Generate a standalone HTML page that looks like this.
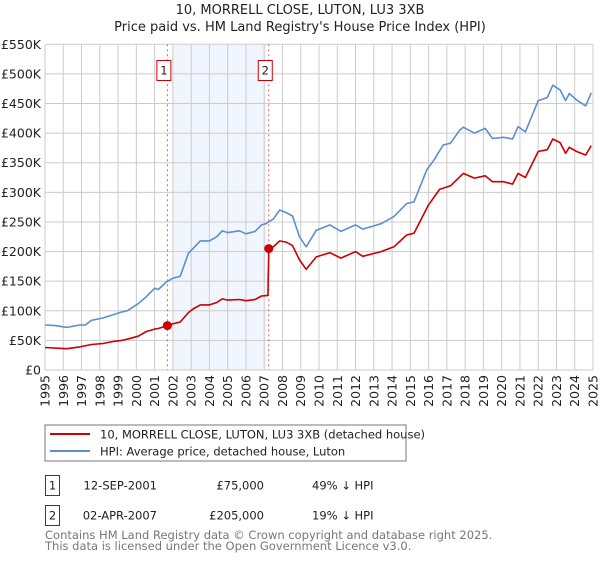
<!DOCTYPE html>
<html><head><meta charset="utf-8"><style>
body{margin:0;background:#fff;font-family:"DejaVu Sans","Liberation Sans",sans-serif;}
svg text{font-family:"DejaVu Sans","Liberation Sans",sans-serif;}
</style></head><body>
<svg id="chart" width="600" height="560" xmlns="http://www.w3.org/2000/svg">
<text x="300" y="14" text-anchor="middle" font-size="13" fill="#222">10, MORRELL CLOSE, LUTON, LU3 3XB</text>
<text x="300" y="31" text-anchor="middle" font-size="13" fill="#222">Price paid vs. HM Land Registry's House Price Index (HPI)</text>
<g id="grid"></g>
<g id="marks"></g>
<g>
<rect x="45" y="425" width="361" height="36" fill="#fff" stroke="#777"/>
<line x1="50" y1="434" x2="90" y2="434" stroke="#cc0000" stroke-width="2"/>
<text x="100" y="438.5" font-size="11.5" fill="#222">10, MORRELL CLOSE, LUTON, LU3 3XB (detached house)</text>
<line x1="50" y1="451" x2="90" y2="451" stroke="#5b8fd0" stroke-width="2"/>
<text x="100" y="455.5" font-size="11.5" fill="#222">HPI: Average price, detached house, Luton</text>
</g>
<g font-size="11.5" fill="#222">
<rect x="45.5" y="475.5" width="14" height="20" fill="#fff" stroke="#cc0000"/>
<text x="52.5" y="489.5" text-anchor="middle">1</text>
<text x="157" y="489.5" text-anchor="end">12-SEP-2001</text>
<text x="264" y="489.5" text-anchor="end">£75,000</text>
<text x="312" y="489.5">49% ↓ HPI</text>
<rect x="45.5" y="505.5" width="14" height="20" fill="#fff" stroke="#cc0000"/>
<text x="52.5" y="519.5" text-anchor="middle">2</text>
<text x="157" y="519.5" text-anchor="end">02-APR-2007</text>
<text x="264" y="519.5" text-anchor="end">£205,000</text>
<text x="312" y="519.5">19% ↓ HPI</text>
</g>
<text x="45" y="539" font-size="11.5" fill="#777">Contains HM Land Registry data © Crown copyright and database right 2025.</text>
<text x="45" y="550" font-size="11.5" fill="#777">This data is licensed under the Open Government Licence v3.0.</text>
</svg>
<script>
const hpiYears=[1995,1995.55,1996.2,1996.9,1997.2,1997.55,1998.2,1998.7,1999.2,1999.5,2000.1,2000.55,2001,2001.2,2001.65,2002,2002.4,2002.85,2003.1,2003.5,2004,2004.4,2004.7,2005,2005.65,2006,2006.5,2006.85,2007.1,2007.5,2007.85,2008.2,2008.55,2008.93,2009.3,2009.85,2010.6,2011.2,2012,2012.4,2013.4,2014.1,2014.8,2015.2,2015.9,2016.3,2016.8,2017.2,2017.7,2017.9,2018.5,2019.1,2019.5,2020.1,2020.6,2020.9,2021.3,2022,2022.5,2022.8,2023.2,2023.5,2023.7,2024.1,2024.6,2024.9];
const hpiValues=[76,75,72,76,76,84,88,93,98,100,112,124,138,136,149,155,158,197,205,218,218,225,235,232,235,230,234,245,247,255,270,266,260,225,208,236,245,234,245,238,247,259,281,284,338,355,380,383,405,410,400,408,391,393,390,411,402,455,460,481,473,455,467,456,446,468];
const priceYears=[1995,1996.2,1996.9,1997.55,1998.2,1998.7,1999.2,1999.5,2000.1,2000.55,2001,2001.2,2001.7,2002,2002.4,2002.85,2003.1,2003.5,2004,2004.4,2004.7,2005,2005.65,2006,2006.5,2006.85,2007.2,2007.25,2007.5,2007.85,2008.2,2008.55,2008.93,2009.3,2009.85,2010.6,2011.2,2012,2012.4,2013.4,2014.1,2014.8,2015.2,2016,2016.6,2017.2,2017.9,2018.5,2019.1,2019.5,2020.1,2020.6,2020.9,2021.3,2022,2022.5,2022.8,2023.2,2023.5,2023.7,2024.1,2024.6,2024.9];
const priceValues=[38,36,39,43,45,48,50,52,57,65,69,70,75,78,81,97,103,110,110,114,120,118,119,117,119,125,126,205,208,218,216,210,186,170,191,198,189,200,192,200,208,228,231,279,305,311,332,324,328,318,318,314,332,325,369,372,390,384,366,376,369,363,379];
const saleYears=[2001.7,2007.25];
const saleValues=[75,205];
const saleLabels=["1","2"];
const yTicks=[0,50,100,150,200,250,300,350,400,450,500,550];
const yTickLabels=["£0","£50K","£100K","£150K","£200K","£250K","£300K","£350K","£400K","£450K","£500K","£550K"];
const xTicks=[1995,1996,1997,1998,1999,2000,2001,2002,2003,2004,2005,2006,2007,2008,2009,2010,2011,2012,2013,2014,2015,2016,2017,2018,2019,2020,2021,2022,2023,2024,2025];
const shadeRange=[2002,2007.1];

const NS="http://www.w3.org/2000/svg";
const X0=45,X1=593,Y0=370,Y1=44.3;
const sx=y=>X0+(y-1995)/30*(X1-X0);
const sy=v=>Y0-v/550*(Y0-Y1);
function mk(tag,attrs,parent){const e=document.createElementNS(NS,tag);for(const k in attrs)e.setAttribute(k,attrs[k]);parent.appendChild(e);return e;}
const grid=document.getElementById('grid'),marks=document.getElementById('marks');
let sh=mk('rect',{x:sx(shadeRange[0]),y:Y1,width:sx(shadeRange[1])-sx(shadeRange[0]),height:Y0-Y1,fill:'#eef3fc',opacity:0.8},grid);


yTicks.forEach((t,i)=>{
 let l=mk('line',{x1:X0,x2:X1,y1:sy(t),y2:sy(t),stroke:'#cccccc'},grid);
 
 
 let tx=mk('text',{x:X0-4,y:sy(t)+4.5,'text-anchor':'end','font-size':'12.5',fill:'#222'},grid);
 tx.textContent=yTickLabels[i];
 
 
});
xTicks.forEach(t=>{
 let l=mk('line',{x1:sx(t),x2:sx(t),y1:Y1,y2:Y0,stroke:'#cccccc'},grid);
 
 
 let tx=mk('text',{x:0,y:0,'text-anchor':'end','font-size':'12.5',fill:'#222',transform:`translate(${sx(t)+4.5},${Y0+5}) rotate(-90)`},grid);
 tx.textContent=t;
 
 
});
saleYears.forEach((y,i)=>{
 let l=mk('line',{x1:sx(y),x2:sx(y),y1:Y1,y2:Y0,stroke:'#e06060','stroke-dasharray':'2,3'},marks);
 
 
});
function path(xs,vs,color,name){
 let d=xs.map((x,i)=>(i?'L':'M')+sx(x).toFixed(1)+','+sy(vs[i]).toFixed(1)).join('');
 let p=mk('path',{d:d,fill:'none',stroke:color,'stroke-width':1.6,'stroke-linejoin':'round'},marks);
 
 
}
path(hpiYears,hpiValues,'#5b8fd0','hpi-line');
path(priceYears,priceValues,'#cc0000','price-paid-line');
saleYears.forEach((y,i)=>{
 let c=mk('circle',{cx:sx(y),cy:sy(saleValues[i]),r:4.5,fill:'#cc0000'},marks);
 
 
 let b=mk('rect',{x:sx(y)-10.5,y:60.5,width:14,height:20,fill:'#fff',stroke:'#cc0000'},marks);
 
 
 let t=mk('text',{x:sx(y)-3.5,y:74.5,'text-anchor':'middle','font-size':'11.5',fill:'#222'},marks);
 t.textContent=saleLabels[i];
 
 
});
</script>
</body></html>
